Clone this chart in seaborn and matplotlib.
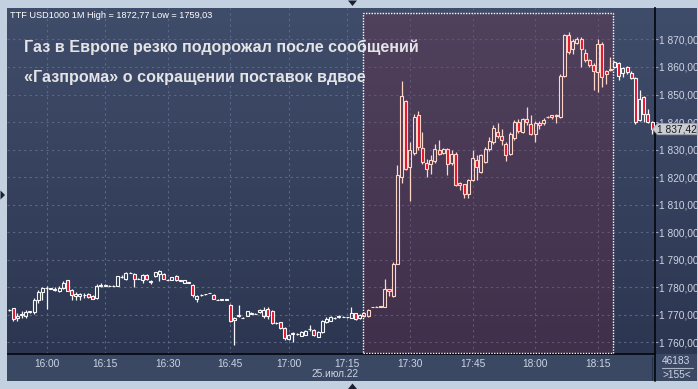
import matplotlib
matplotlib.use("Agg")
import numpy as np
import pandas as pd
import matplotlib.pyplot as plt
import seaborn as sns
import matplotlib.transforms as mtransforms
from matplotlib.patches import Polygon, Rectangle
from matplotlib.lines import Line2D
from matplotlib.colors import LinearSegmentedColormap

# ---------------- data (1-minute candles, TTF USD1000) ----------------
opens = [1771.9, 1772.3, 1768.8, 1769.8, 1769.5, 1771.0, 1770.9, 1775.5, 1778.4, 1779.9,
         1779.6, 1779.5, 1778.8, 1779.8, 1782.6, 1778.9, 1776.8, 1776.8, 1777.2, 1777.4,
         1776.7, 1776.1, 1780.5, 1780.8, 1780.6, 1780.5, 1780.5, 1783.6, 1783.1, 1785.2,
         1784.8, 1783.1, 1782.5, 1784.5, 1782.0, 1783.9, 1784.8, 1784.8, 1782.8, 1782.7,
         1784.2, 1782.5, 1781.7, 1781.8, 1780.9, 1775.7, 1777.2, 1777.4, 1777.9, 1777.3,
         1775.5, 1775.4, 1775.4, 1773.6, 1768.0, 1769.6, 1768.9, 1769.7, 1770.8, 1770.3,
         1771.0, 1769.7, 1772.2, 1771.5, 1767.0, 1767.3, 1765.2, 1761.2, 1763.0, 1763.0,
         1762.4, 1762.7, 1764.7, 1764.5, 1762.1, 1763.7, 1767.3, 1767.8, 1768.8, 1769.3,
         1769.2, 1769.2, 1769.0, 1770.6, 1768.8, 1769.4, 1769.6, 1772.8, 1772.9, 1773.0,
         1773.0, 1779.3, 1776.9, 1788.5, 1820.2, 1847.6, 1823.6, 1828.7, 1842.4, 1830.7,
         1825.2, 1824.6, 1825.8, 1829.7, 1828.7, 1830.2, 1825.1, 1828.5, 1817.8, 1817.4,
         1814.0, 1818.8, 1826.1, 1821.8, 1825.5, 1830.3, 1832.7, 1836.5, 1834.9, 1832.2,
         1828.5, 1834.2, 1840.0, 1836.4, 1841.2, 1839.4, 1835.8, 1839.8, 1839.6, 1841.8,
         1842.4, 1842.3, 1841.8, 1856.7, 1871.5, 1866.4, 1868.8, 1870.2, 1865.2, 1862.4,
         1860.8, 1858.2, 1868.4, 1858.4, 1858.8, 1860.0, 1861.5, 1857.9, 1860.0, 1857.9,
         1856.0, 1840.9, 1849.1, 1843.0, 1840.0]
highs = [1772.2, 1772.5, 1770.8, 1771.2, 1771.6, 1771.4, 1776.2, 1779.0, 1780.2, 1780.3,
         1779.8, 1780.2, 1780.3, 1782.2, 1782.8, 1779.5, 1778.1, 1778.0, 1777.8, 1778.0,
         1777.3, 1781.0, 1781.5, 1781.0, 1780.8, 1780.7, 1784.2, 1784.6, 1785.5, 1785.4,
         1785.0, 1783.3, 1784.8, 1784.8, 1782.6, 1785.6, 1786.4, 1785.0, 1783.0, 1783.8,
         1784.4, 1782.7, 1782.6, 1781.9, 1781.0, 1777.0, 1777.6, 1777.6, 1778.0, 1777.5,
         1775.6, 1775.9, 1775.9, 1773.8, 1769.3, 1773.5, 1769.1, 1771.5, 1771.0, 1770.5,
         1772.0, 1772.7, 1773.0, 1771.8, 1767.2, 1767.5, 1765.4, 1763.0, 1763.6, 1763.2,
         1764.2, 1764.5, 1766.4, 1764.8, 1764.2, 1768.0, 1769.3, 1769.6, 1769.1, 1769.9,
         1769.4, 1769.3, 1772.7, 1770.8, 1770.4, 1770.9, 1772.0, 1773.0, 1773.1, 1773.2,
         1783.1, 1779.5, 1789.0, 1824.5, 1854.8, 1848.0, 1832.7, 1843.0, 1844.0, 1836.3,
         1826.7, 1827.9, 1831.9, 1833.3, 1830.6, 1830.5, 1829.7, 1829.0, 1818.2, 1817.6,
         1819.2, 1829.7, 1827.9, 1828.5, 1830.9, 1834.5, 1838.8, 1839.5, 1837.6, 1832.8,
         1836.5, 1840.6, 1841.2, 1841.6, 1845.5, 1842.7, 1840.2, 1840.2, 1841.4, 1842.1,
         1842.6, 1842.9, 1857.3, 1872.0, 1872.77, 1870.2, 1870.8, 1870.8, 1866.6, 1862.8,
         1861.4, 1870.2, 1869.0, 1858.8, 1863.8, 1862.2, 1861.8, 1860.0, 1860.4, 1858.4,
         1856.3, 1851.5, 1849.4, 1844.8, 1840.4]
lows = [1771.4, 1767.6, 1767.9, 1768.8, 1768.9, 1770.8, 1770.4, 1774.2, 1775.5, 1772.2,
        1779.2, 1778.6, 1778.4, 1779.5, 1778.5, 1775.2, 1775.2, 1775.5, 1776.0, 1776.0,
        1775.6, 1775.8, 1780.0, 1780.4, 1780.4, 1780.3, 1780.3, 1783.2, 1782.8, 1785.0,
        1780.1, 1782.9, 1781.7, 1782.5, 1781.0, 1783.6, 1782.3, 1783.0, 1782.5, 1782.5,
        1782.3, 1782.3, 1781.5, 1781.5, 1776.6, 1774.5, 1776.8, 1777.3, 1777.8, 1775.6,
        1775.4, 1775.3, 1775.3, 1767.3, 1759.03, 1769.3, 1768.7, 1769.5, 1770.1, 1770.2,
        1770.8, 1769.0, 1768.5, 1766.5, 1766.8, 1765.0, 1760.8, 1761.0, 1760.1, 1762.8,
        1762.2, 1762.5, 1764.0, 1762.4, 1761.8, 1763.5, 1766.9, 1767.6, 1768.6, 1769.0,
        1769.1, 1769.0, 1768.8, 1768.2, 1768.4, 1769.2, 1769.3, 1772.7, 1772.8, 1772.9,
        1772.8, 1776.7, 1776.5, 1788.3, 1818.0, 1822.4, 1811.5, 1828.0, 1829.7, 1824.8,
        1820.0, 1821.2, 1825.3, 1828.0, 1828.4, 1820.6, 1824.5, 1816.6, 1815.2, 1812.5,
        1812.5, 1818.5, 1818.8, 1821.5, 1825.0, 1829.6, 1832.0, 1834.2, 1831.5, 1825.7,
        1828.0, 1833.5, 1836.1, 1836.0, 1838.8, 1835.2, 1832.8, 1837.6, 1839.0, 1841.6,
        1841.2, 1839.8, 1841.5, 1856.3, 1864.8, 1864.8, 1868.4, 1860.0, 1861.8, 1860.0,
        1851.5, 1850.9, 1852.9, 1853.9, 1858.5, 1859.6, 1855.1, 1856.3, 1857.5, 1855.5,
        1839.2, 1840.5, 1840.0, 1839.5, 1835.8]
closes = [1771.6, 1768.4, 1769.6, 1770.1, 1771.0, 1771.2, 1775.5, 1778.4, 1779.9, 1779.7,
          1779.4, 1779.0, 1779.8, 1781.6, 1778.8, 1777.3, 1777.7, 1777.5, 1777.0, 1776.4,
          1775.8, 1780.5, 1780.8, 1780.6, 1780.5, 1780.4, 1783.9, 1783.8, 1785.2, 1785.3,
          1783.1, 1783.0, 1784.5, 1783.0, 1782.2, 1785.4, 1786.0, 1783.1, 1782.7, 1783.7,
          1782.5, 1782.4, 1782.5, 1781.7, 1777.0, 1776.9, 1777.3, 1777.5, 1777.9, 1775.7,
          1775.5, 1775.8, 1775.8, 1767.9, 1769.0, 1769.8, 1768.8, 1771.2, 1770.3, 1770.4,
          1771.8, 1771.8, 1769.7, 1767.0, 1766.9, 1765.2, 1761.5, 1762.7, 1763.2, 1763.0,
          1763.9, 1764.2, 1764.9, 1762.7, 1763.9, 1767.8, 1768.5, 1769.3, 1768.9, 1769.5,
          1769.3, 1769.1, 1770.6, 1768.4, 1770.0, 1770.6, 1771.8, 1772.9, 1772.9, 1773.1,
          1779.3, 1778.5, 1788.5, 1820.8, 1849.5, 1823.0, 1829.7, 1842.0, 1830.9, 1825.5,
          1823.0, 1826.3, 1830.3, 1828.5, 1830.3, 1824.6, 1828.5, 1817.0, 1817.0, 1814.0,
          1818.8, 1827.0, 1823.6, 1827.9, 1830.3, 1833.1, 1837.9, 1835.0, 1833.4, 1828.2,
          1835.8, 1840.0, 1836.6, 1841.2, 1840.0, 1835.8, 1839.8, 1838.8, 1840.9, 1841.9,
          1841.8, 1842.5, 1856.9, 1871.7, 1865.6, 1869.6, 1870.2, 1866.4, 1862.4, 1860.8,
          1858.4, 1868.4, 1856.3, 1857.5, 1859.4, 1861.8, 1856.9, 1859.6, 1858.1, 1856.0,
          1840.0, 1848.5, 1843.0, 1840.0, 1837.42]

time_tick_idx = [9, 23, 38, 53, 67, 81, 96, 111, 126, 141]
time_tick_labels = ["16:00", "16:15", "16:30", "16:45", "17:00", "17:15",
                    "17:30", "17:45", "18:00", "18:15"]
price_ticks = [1760, 1770, 1780, 1790, 1800, 1810, 1820, 1830, 1840, 1850, 1860, 1870]
highlight_start, highlight_end = 84.8, 144.75
date_label = "25.июл.22"
title_lines = ["Газ в Европе резко подорожал после сообщений",
               "«Газпрома» о сокращении поставок вдвое"]
info_text = "TTF USD1000 1M High = 1872,77 Low = 1759,03"
volume_text = "46183"
bars_text = ">155<"
last_price = closes[-1]

df = pd.DataFrame({"o": opens, "h": highs, "l": lows, "c": closes})
df["i"] = np.arange(len(df))
df["up"] = df["c"] >= df["o"]
df["top"] = df[["o", "c"]].max(axis=1)
df["bot"] = df[["o", "c"]].min(axis=1)
df["inside"] = (df["i"] > highlight_start) & (df["i"] < highlight_end)

# ---------------- style ----------------
sns.set_theme(style="dark")
plt.rcParams["font.family"] = ["Liberation Sans", "DejaVu Sans"]

FRAME = "#c3d0e0"
BG_TOP = "#404d6a"
BG_BOT = "#2c3651"
STRIP = "#3b4864"
GRID = "#5b688a"
AXLINE = "#070a12"
LABEL = "#cdd4e4"
RED = "#e3102c"
WHITE = "#f6f6f6"
PEACH = "#ffd6c6"

W, H = 698, 389
fig = plt.figure(figsize=(W / 100, H / 100), dpi=100, facecolor=FRAME)


def box(x0, y0, x1, y1):
    return [x0 / W, 1 - y1 / H, (x1 - x0) / W, (y1 - y0) / H]


def fp(x, y):
    return (x / W, 1 - y / H)


# background gradient panel
bg = fig.add_axes(box(7.5, 7.5, 697, 354), zorder=0)
bg.axis("off")
cmap = LinearSegmentedColormap.from_list("bg", [BG_TOP, BG_BOT])
bg.imshow(np.linspace(0, 1, 256).reshape(-1, 1), aspect="auto", cmap=cmap,
          extent=[0, 1, 0, 1], origin="upper")
fig.add_artist(Rectangle(fp(7.5, 381), (697 - 7.5) / W, (381 - 354) / H,
                         transform=fig.transFigure, facecolor=STRIP,
                         edgecolor="none", zorder=0.5))

ax = fig.add_axes(box(7.5, 7.5, 655, 354), zorder=2)
ax.set_facecolor("none")
ax.set_xlim(-0.36, 154.7)
ax.set_ylim(1755.75, 1881.6)

# highlighted hour
ax.axvspan(highlight_start, highlight_end, ymin=0.004, ymax=0.985,
           facecolor=(0.50, 0.12, 0.22), alpha=0.25, edgecolor="none", zorder=0.6)
trans = mtransforms.blended_transform_factory(ax.transData, ax.transAxes)
ax.add_patch(Rectangle((highlight_start, 0.004), highlight_end - highlight_start, 0.981,
                       transform=trans, fill=False, edgecolor="white",
                       linestyle=(0, (1, 1)), linewidth=1.0, zorder=4))

# grid
ax.set_xticks(time_tick_idx)
ax.set_xticklabels(time_tick_labels)
ax.set_yticks(price_ticks)
ax.set_yticklabels([f"{v:,.2f}".replace(",", " ").replace(".", ",") for v in price_ticks])
ax.grid(True, color=GRID, linestyle=(0, (2, 3)), linewidth=0.8)
ax.set_axisbelow(True)

# candles
edge = np.where(df["inside"], PEACH, WHITE)
face = np.where(df["up"], "none", RED)
ax.vlines(df["i"], df["top"], df["h"], colors=edge, linewidth=0.9, zorder=3)
ax.vlines(df["i"], df["l"], df["bot"], colors=edge, linewidth=0.9, zorder=3)
ax.bar(df["i"], df["top"] - df["bot"], bottom=df["bot"], width=0.72,
       color=face, edgecolor=edge, linewidth=0.8, zorder=3.5)

# axes styling
ax.yaxis.tick_right()
ax.tick_params(axis="y", right=True, left=False, length=2, width=0.8,
               color="#8ea0c4", labelcolor=LABEL, labelsize=7.3, pad=1)
ax.tick_params(axis="x", length=0, pad=3.5, labelcolor=LABEL, labelsize=7.3)
for s in ("top", "left"):
    ax.spines[s].set_visible(False)
for s in ("right", "bottom"):
    ax.spines[s].set_visible(True)
    ax.spines[s].set_color(AXLINE)
    ax.spines[s].set_linewidth(1.3)

# right axis line continues through the bottom strip
fig.add_artist(Line2D([655.3 / W, 655.3 / W], [1 - 354 / H, 1 - 381 / H],
                      transform=fig.transFigure, color=AXLINE, linewidth=1.3, zorder=3))
fig.add_artist(Line2D([651.7 / W, 651.7 / W], [1 - 357 / H, 1 - 380 / H],
                      transform=fig.transFigure, color="#25304a", linewidth=0.8, zorder=3))

# last price marker
yt = mtransforms.blended_transform_factory(fig.transFigure, ax.transData)
dh = 5.6 / 2.7527
marker = Polygon([(652.5 / W, last_price), (657.5 / W, last_price + dh),
                  (697 / W, last_price + dh), (697 / W, last_price - dh),
                  (657.5 / W, last_price - dh)], closed=True, transform=yt,
                 facecolor="#c9ccd3", edgecolor="#9aa0ab", linewidth=0.6,
                 clip_on=False, zorder=5)
ax.add_patch(marker)
ax.text(677 / W, last_price, f"{last_price:,.2f}".replace(",", " ").replace(".", ","),
        transform=yt, ha="center", va="center", fontsize=7.3, color="#1a1a1a",
        clip_on=False, zorder=6)

# texts
fig.text(10 / W, 1 - 15 / H, info_text, fontsize=6.6, color="white",
         va="center", ha="left", zorder=6)
fig.text(24 / W, 1 - 51.7 / H, title_lines[0], fontsize=11.6, weight="bold",
         color="#e4e4e6", va="baseline", ha="left", zorder=6)
fig.text(24 / W, 1 - 81.6 / H, title_lines[1], fontsize=11.6, weight="bold",
         color="#e4e4e6", va="baseline", ha="left", zorder=6)
fig.text(334.7 / W, 1 - 374 / H, date_label, fontsize=7.3, color=LABEL,
         ha="center", va="center", zorder=6)
fig.text(676.5 / W, 1 - 361.5 / H, volume_text, fontsize=7.3, color=LABEL,
         ha="center", va="center", zorder=6)
fig.add_artist(Line2D([661.7 / W, 693 / W], [1 - 367.7 / H, 1 - 367.7 / H],
                      transform=fig.transFigure, color="#aab4c8", linewidth=0.8, zorder=6))
fig.text(676.5 / W, 1 - 375.5 / H, bars_text, fontsize=7.3, color=LABEL,
         ha="center", va="center", zorder=6)

# small navigation triangles on the frame
TRI = "#1a2132"
for pts in ([(348, 0.5), (357, 0.5), (352.5, 6)],
            [(348, 389), (357, 389), (352.5, 383.5)],
            [(0.5, 190.5), (0.5, 199.5), (5, 195)]):
    fig.add_artist(Polygon([fp(x, y) for x, y in pts], closed=True,
                           transform=fig.transFigure, facecolor=TRI,
                           edgecolor="none", zorder=7))

fig.savefig("out.png", dpi=100, facecolor=FRAME)
